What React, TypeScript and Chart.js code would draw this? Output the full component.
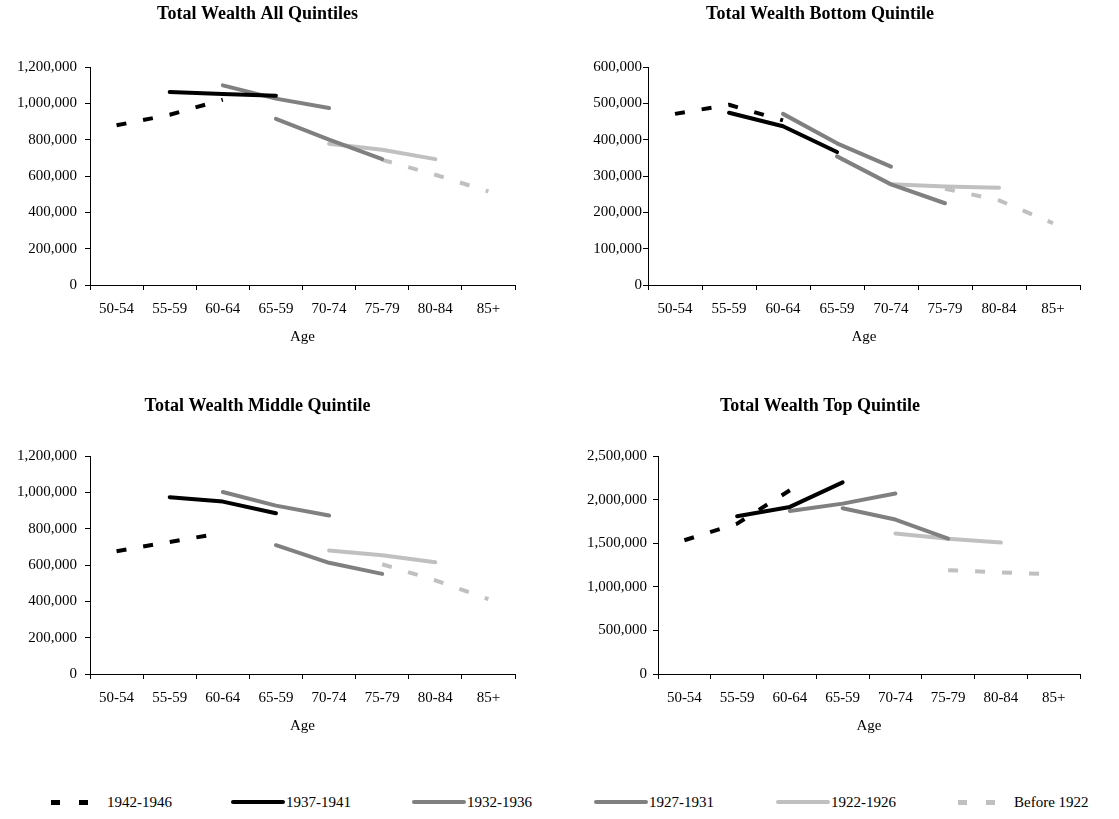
import React, { useEffect, useRef } from "react";
import { Chart, registerables } from "chart.js";

Chart.register(...registerables);

const ageLabels = ["50-54", "55-59", "60-64", "65-59", "70-74", "75-79", "80-84", "85+"];
const cohortNames = ["1942-1946", "1937-1941", "1932-1936", "1927-1931", "1922-1926", "Before 1922"];

// Total Wealth All Quintiles
const allQ1942 = [879000, 937000, 1020000, null, null, null, null, null];
const allQ1937 = [null, 1062000, 1051000, 1042000, null, null, null, null];
const allQ1932 = [null, null, 1099000, 1026000, 974000, null, null, null];
const allQ1927 = [null, null, null, 915000, 800000, 693000, null, null];
const allQ1922 = [null, null, null, null, 778000, 744000, 693000, null];
const allQBefore = [null, null, null, null, null, 689000, 607000, 515000];

// Total Wealth Bottom Quintile
const botQ1942 = [471000, 496000, 453000, null, null, null, null, null];
const botQ1937 = [null, 474000, 437000, 366000, null, null, null, null];
const botQ1932 = [null, null, 471000, 390000, 326000, null, null, null];
const botQ1927 = [null, null, null, 354000, 277000, 225000, null, null];
const botQ1922 = [null, null, null, null, 277000, 271000, 268000, null];
const botQBefore = [null, null, null, null, null, 265000, 233000, 170000];

// Total Wealth Middle Quintile
const midQ1942 = [676000, 727000, 777000, null, null, null, null, null];
const midQ1937 = [null, 973000, 949000, 885000, null, null, null, null];
const midQ1932 = [null, null, 1002000, 927000, 872000, null, null, null];
const midQ1927 = [null, null, null, 709000, 612000, 551000, null, null];
const midQ1922 = [null, null, null, null, 680000, 654000, 615000, null];
const midQBefore = [null, null, null, null, null, 604000, 516000, 412000];

// Total Wealth Top Quintile
const topQ1942 = [1534000, 1725000, 2107000, null, null, null, null, null];
const topQ1937 = [null, 1809000, 1916000, 2198000, null, null, null, null];
const topQ1932 = [null, null, 1870000, 1954000, 2069000, null, null, null];
const topQ1927 = [null, null, null, 1901000, 1771000, 1553000, null, null];
const topQ1922 = [null, null, null, null, 1611000, 1550000, 1508000, null];
const topQBefore = [null, null, null, null, null, 1191000, 1164000, 1145000];

const FONT = "'Liberation Serif', 'Times New Roman', serif";
const TICK_SIZE = 15;
const TITLE_SIZE = 18;

const seriesStyles = [
  { color: "#000000", dash: [10, 17] },
  { color: "#000000", dash: [] },
  { color: "#808080", dash: [] },
  { color: "#808080", dash: [] },
  { color: "#c0c0c0", dash: [] },
  { color: "#c0c0c0", dash: [10, 17] },
];

type PanelProps = {
  title: string;
  series: (number | null)[][];
  yMax: number;
  yStep: number;
  yLabelGap: number;
  box: { left: number; top: number; width: number; height: number };
  plot: { left: number; right: number; top: number; bottom: number };
};

function Panel({ title, series, yMax, yStep, yLabelGap, box, plot }: PanelProps) {
  const ref = useRef<HTMLCanvasElement | null>(null);
  useEffect(() => {
    if (!ref.current) return;
    const titleLine = TITLE_SIZE * 1.2;
    const titlePadTop = 14 - titleLine / 2;
    const titlePadBottom = plot.top - box.top - titlePadTop - titleLine;
    const tickLen = 5;
    const tickPad = 10;
    const labelLine = TICK_SIZE * 1.2;
    const xTitlePadTop = 0;
    const xTitlePadBottom = 4;
    const xScaleH = tickLen + 2 * tickPad + labelLine + xTitlePadTop + labelLine + xTitlePadBottom;
    const padBottom = box.top + box.height - plot.bottom - xScaleH;
    const padRight = box.left + box.width - plot.right;
    const yWidth = plot.left - box.left;

    const chart = new Chart(ref.current, {
      type: "line",
      data: {
        labels: ageLabels,
        datasets: series.map((d, i) => ({
          label: cohortNames[i],
          data: d,
          borderColor: seriesStyles[i].color,
          backgroundColor: seriesStyles[i].color,
          borderWidth: 4,
          borderDash: seriesStyles[i].dash,
          borderCapStyle: seriesStyles[i].dash.length ? "butt" : "round",
          borderJoinStyle: "round",
          pointRadius: 0,
          pointHoverRadius: 0,
          tension: 0,
          spanGaps: false,
          fill: false,
        })),
      },
      options: {
        responsive: false,
        animation: false,
        layout: { padding: { left: 0, top: 0, right: padRight, bottom: padBottom } },
        plugins: {
          legend: { display: false },
          tooltip: { enabled: false },
          title: {
            display: true,
            text: title,
            color: "#000",
            font: { family: FONT, size: TITLE_SIZE, weight: "bold" },
            padding: { top: titlePadTop, bottom: titlePadBottom },
          },
        },
        scales: {
          x: {
            type: "category",
            offset: true,
            grid: {
              display: true,
              offset: true,
              drawOnChartArea: false,
              drawTicks: true,
              tickLength: tickLen,
              color: "#000",
              lineWidth: 1,
            },
            border: { display: true, color: "#000", width: 1 },
            ticks: {
              color: "#000",
              font: { family: FONT, size: TICK_SIZE },
              padding: tickPad,
              maxRotation: 0,
              autoSkip: false,
            },
            title: {
              display: true,
              text: "Age",
              color: "#000",
              font: { family: FONT, size: TICK_SIZE },
              padding: { top: xTitlePadTop, bottom: xTitlePadBottom },
            },
          },
          y: {
            min: 0,
            max: yMax,
            grid: {
              display: true,
              drawOnChartArea: false,
              drawTicks: true,
              tickLength: tickLen,
              color: "#000",
              lineWidth: 1,
            },
            border: { display: true, color: "#000", width: 1 },
            ticks: {
              stepSize: yStep,
              color: "#000",
              font: { family: FONT, size: TICK_SIZE },
              padding: yLabelGap,
              callback: (v: any) => Number(v).toLocaleString("en-US"),
            },
            afterFit: (scale: any) => {
              scale.width = yWidth;
            },
          },
        },
      },
    } as any);
    return () => chart.destroy();
  }, []);
  return (
    <canvas
      ref={ref}
      width={box.width}
      height={box.height}
      style={{ position: "absolute", left: box.left, top: box.top, width: box.width, height: box.height }}
    />
  );
}

function LegendSample({ color, dashed }: { color: string; dashed: boolean }) {
  if (dashed) {
    return (
      <div
        style={{
          width: 40,
          height: 5,
          background: `repeating-linear-gradient(to right, ${color} 0px, ${color} 9px, transparent 9px, transparent 28px)`,
        }}
      />
    );
  }
  return <div style={{ width: 54, height: 4, background: color, borderRadius: 2 }} />;
}

const legendLefts = [51, 231, 412, 594, 776, 958];

export default function App() {
  return (
    <div
      style={{
        position: "absolute",
        left: 0,
        top: 0,
        width: 1119,
        height: 819,
        background: "#fff",
        overflow: "hidden",
      }}
    >
      <Panel
        title="Total Wealth All Quintiles"
        series={[allQ1942, allQ1937, allQ1932, allQ1927, allQ1922, allQBefore]}
        yMax={1200000}
        yStep={200000}
        yLabelGap={8}
        box={{ left: 0, top: 0, width: 560, height: 365 }}
        plot={{ left: 90, right: 515, top: 67, bottom: 285 }}
      />
      <Panel
        title="Total Wealth Bottom Quintile"
        series={[botQ1942, botQ1937, botQ1932, botQ1927, botQ1922, botQBefore]}
        yMax={600000}
        yStep={100000}
        yLabelGap={1}
        box={{ left: 560, top: 0, width: 559, height: 365 }}
        plot={{ left: 648, right: 1080, top: 67, bottom: 285 }}
      />
      <Panel
        title="Total Wealth Middle Quintile"
        series={[midQ1942, midQ1937, midQ1932, midQ1927, midQ1922, midQBefore]}
        yMax={1200000}
        yStep={200000}
        yLabelGap={8}
        box={{ left: 0, top: 392, width: 560, height: 365 }}
        plot={{ left: 90, right: 515, top: 456, bottom: 674 }}
      />
      <Panel
        title="Total Wealth Top Quintile"
        series={[topQ1942, topQ1937, topQ1932, topQ1927, topQ1922, topQBefore]}
        yMax={2500000}
        yStep={500000}
        yLabelGap={6}
        box={{ left: 560, top: 392, width: 559, height: 365 }}
        plot={{ left: 658, right: 1080, top: 456, bottom: 674 }}
      />
      {cohortNames.map((name, i) => (
        <div
          key={name}
          style={{
            position: "absolute",
            left: legendLefts[i],
            top: 792,
            height: 20,
            display: "flex",
            alignItems: "center",
            fontFamily: FONT,
            fontSize: 15,
            color: "#000",
            whiteSpace: "nowrap",
          }}
        >
          <LegendSample color={seriesStyles[i].color} dashed={seriesStyles[i].dash.length > 0} />
          <span style={{ marginLeft: seriesStyles[i].dash.length ? 16 : 1 }}>{name}</span>
        </div>
      ))}
    </div>
  );
}
